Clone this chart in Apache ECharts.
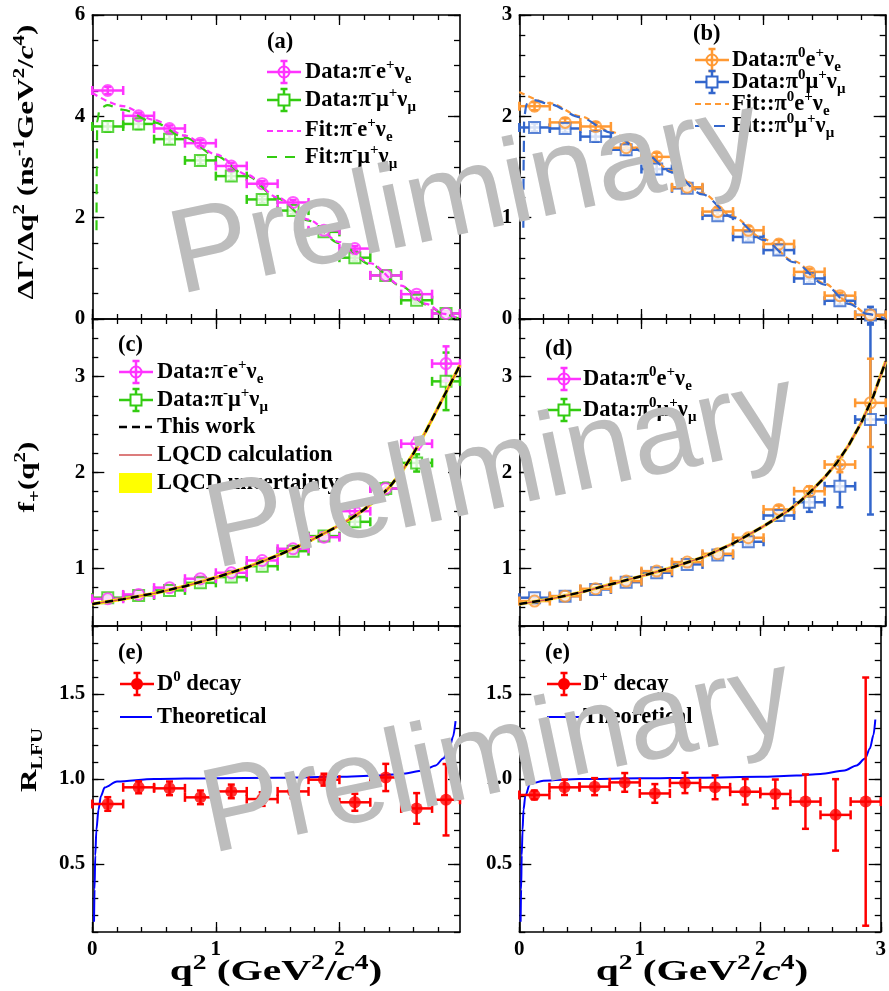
<!DOCTYPE html>
<html>
<head>
<meta charset="utf-8">
<title>D -> pi l nu</title>
<script src="https://cdn.jsdelivr.net/npm/echarts@6/dist/echarts.min.js"></script>
<style>
  html, body { margin: 0; padding: 0; background: #fff; }
  #chart { width: 889px; height: 991px; }
</style>
</head>
<body>
<div id="chart"></div>
<script>
// q^2 bin edges (GeV^2/c^4)
var binsD0 = [0, 0.25, 0.5, 0.75, 1, 1.25, 1.5, 1.75, 2, 2.25, 2.5, 2.75, 2.976];
var binsDp = [0, 0.25, 0.5, 0.75, 1, 1.25, 1.5, 1.75, 2, 2.25, 2.5, 2.75, 3.0];

// (a) D0 -> pi- l+ nu partial rates
var rateE0 = [4.51, 4.01, 3.76, 3.47, 3.02, 2.67, 2.30, 1.75, 1.39, 0.86, 0.49, 0.11];
var rateE0Err = [0.07, 0.06, 0.06, 0.06, 0.06, 0.05, 0.05, 0.05, 0.05, 0.04, 0.04, 0.03];
var rateMu0 = [3.80, 3.85, 3.55, 3.13, 2.82, 2.36, 2.14, 1.72, 1.21, 0.86, 0.37, 0.11];
var rateMu0Err = [0.10, 0.10, 0.09, 0.08, 0.08, 0.07, 0.07, 0.06, 0.06, 0.05, 0.05, 0.04];
var fitE0 = [[0, 4.46], [0.25, 4.2], [0.5, 3.93], [0.75, 3.62], [1.0, 3.25], [1.25, 2.85], [1.5, 2.4],
  [1.75, 1.96], [2.0, 1.52], [2.25, 1.1], [2.5, 0.66], [2.7, 0.3], [2.85, 0.1], [2.976, 0]];
var fitMu0 = [[0.034, 1.75], [0.036, 3.0], [0.04, 3.9], [0.06, 4.15], [0.12, 4.22], [0.25, 4.13], [0.5, 3.88],
  [0.75, 3.58], [1.0, 3.22], [1.25, 2.83], [1.5, 2.38], [1.75, 1.94], [2.0, 1.5], [2.25, 1.08],
  [2.5, 0.65], [2.7, 0.29], [2.85, 0.09], [2.976, 0]];

// (b) D+ -> pi0 l+ nu partial rates
var rateEp = [2.10, 1.94, 1.90, 1.69, 1.60, 1.30, 1.06, 0.875, 0.74, 0.465, 0.23, 0.04];
var rateEpErr = [0.04, 0.04, 0.04, 0.04, 0.04, 0.04, 0.04, 0.04, 0.04, 0.03, 0.03, 0.03];
var rateMup = [1.89, 1.88, 1.80, 1.67, 1.48, 1.29, 1.02, 0.81, 0.68, 0.40, 0.18, 0.04];
var rateMupErr = [0.04, 0.04, 0.05, 0.05, 0.05, 0.04, 0.04, 0.04, 0.04, 0.04, 0.04, 0.08];
var fitEp = [[0, 2.24], [0.25, 2.13], [0.5, 2.0], [0.75, 1.85], [1.0, 1.67], [1.25, 1.46], [1.5, 1.24],
  [1.75, 1.01], [2.0, 0.79], [2.25, 0.57], [2.5, 0.35], [2.7, 0.16], [2.85, 0.05], [3.0, 0]];
var fitMup = [[0.033, 0.9], [0.036, 1.6], [0.04, 2.0], [0.06, 2.12], [0.12, 2.16], [0.25, 2.12], [0.5, 1.99],
  [0.75, 1.84], [1.0, 1.66], [1.25, 1.45], [1.5, 1.23], [1.75, 1.0], [2.0, 0.78], [2.25, 0.56],
  [2.5, 0.34], [2.7, 0.15], [2.85, 0.05], [3.0, 0]];

// (c) f+(q^2) for D0
var ffE0 = [0.684, 0.729, 0.80, 0.893, 0.955, 1.083, 1.205, 1.326, 1.597, 1.833, 2.30, 3.135];
var ffE0Err = [0.02, 0.02, 0.02, 0.02, 0.02, 0.02, 0.025, 0.03, 0.04, 0.05, 0.06, 0.18];
var ffMu0 = [0.695, 0.719, 0.771, 0.85, 0.91, 1.024, 1.18, 1.337, 1.486, 1.833, 2.10, 2.95];
var ffMu0Err = [0.02, 0.02, 0.02, 0.03, 0.03, 0.03, 0.03, 0.04, 0.05, 0.06, 0.09, 0.30];
var ffFit0 = [[0, 0.63], [0.25, 0.68], [0.5, 0.74], [0.75, 0.815], [1.0, 0.905], [1.25, 1.01], [1.5, 1.135],
  [1.75, 1.28], [2.0, 1.45], [2.1, 1.525], [2.2, 1.615], [2.3, 1.72], [2.4, 1.84], [2.5, 2.0],
  [2.6, 2.2], [2.7, 2.43], [2.8, 2.68], [2.9, 2.93], [2.976, 3.12]];

// (d) f+(q^2) for D+
var ffEp = [0.66, 0.711, 0.788, 0.868, 0.972, 1.066, 1.153, 1.32, 1.615, 1.805, 2.083, 2.726];
var ffEpErr = [0.02, 0.02, 0.02, 0.02, 0.025, 0.025, 0.03, 0.035, 0.04, 0.05, 0.08, 0.46];
var ffMup = [0.695, 0.711, 0.781, 0.857, 0.955, 1.042, 1.139, 1.278, 1.552, 1.69, 1.857, 2.552];
var ffMupErr = [0.02, 0.02, 0.02, 0.025, 0.025, 0.03, 0.03, 0.035, 0.05, 0.10, 0.22, 0.99];
var ffFitp = [[0, 0.63], [0.25, 0.68], [0.5, 0.75], [0.75, 0.835], [1.0, 0.92], [1.25, 1.01], [1.5, 1.115],
  [1.75, 1.26], [2.0, 1.44], [2.1, 1.52], [2.2, 1.6], [2.3, 1.7], [2.4, 1.82], [2.5, 1.95],
  [2.6, 2.1], [2.7, 2.29], [2.8, 2.52], [2.9, 2.8], [3.0, 3.16]];

// (e) R_LFU
var rlfu0 = [0.853, 0.951, 0.945, 0.892, 0.927, 0.882, 0.927, 0.996, 0.863, 1.009, 0.827, 0.878];
var rlfu0Err = [0.04, 0.035, 0.04, 0.04, 0.04, 0.04, 0.04, 0.035, 0.05, 0.08, 0.09, 0.21];
var rlfup = [0.906, 0.951, 0.955, 0.980, 0.915, 0.977, 0.951, 0.925, 0.912, 0.867, 0.789, 0.867];
var rlfupErr = [0.026, 0.045, 0.05, 0.055, 0.055, 0.06, 0.07, 0.075, 0.085, 0.16, 0.21, 0.73];
var theory0 = [[0.014, 0.16], [0.018, 0.35], [0.024, 0.55], [0.033, 0.7], [0.05, 0.82], [0.07, 0.9],
  [0.1, 0.95], [0.2, 0.985], [0.5, 1.0], [1.0, 1.005], [1.5, 1.008], [2.0, 1.013], [2.3, 1.02],
  [2.5, 1.03], [2.68, 1.05], [2.78, 1.08], [2.84, 1.12], [2.89, 1.18], [2.92, 1.25], [2.94, 1.34]];
var theoryp = [[0.011, 0.16], [0.015, 0.35], [0.02, 0.55], [0.027, 0.7], [0.035, 0.82], [0.05, 0.9],
  [0.088, 0.97], [0.2, 0.99], [0.5, 1.0], [1.0, 1.004], [1.5, 1.008], [2.0, 1.013], [2.3, 1.02],
  [2.5, 1.03], [2.7, 1.05], [2.8, 1.08], [2.87, 1.12], [2.91, 1.18], [2.94, 1.26], [2.955, 1.35]];

// tick labels
var xLabD0 = [0, 1, 2];
var xLabDp = [0, 1, 2, 3];
var yLabA = [0, 2, 4, 6];
var yLabB = [0, 1, 2, 3];
var yLabF = [1, 2, 3];
var yLabR = [0.5, 1.0, 1.5];

var PINK = '#ff33ff', GREEN = '#33cc11', ORANGE = '#ff9933', BLUE = '#3366cc', RED = '#ff0000';
var SERIF = '"Liberation Serif", "Times New Roman", serif';

function ticks(a, b, step) {
  var out = [];
  for (var v = a; v <= b + 1e-6; v += step) out.push(Math.round(v * 1000) / 1000);
  return out;
}

var colL = {left: 92.3, width: 367.7}, colR = {left: 519.3, width: 366.4};
var rows = [{top: 15, height: 304}, {top: 319, height: 307}, {top: 626, height: 306}];

var panels = [
  {col: colL, row: 0, x: [0, 2.976], xMaj: [0, 1, 2], y: [0, 6], yMaj: [0, 2, 4, 6], yMin: ticks(0, 6, 0.5), yLab: yLabA},
  {col: colR, row: 0, x: [0, 3], xMaj: [0, 1, 2, 3], y: [0, 3], yMaj: [0, 1, 2, 3], yMin: ticks(0, 3, 0.2), yLab: yLabB},
  {col: colL, row: 1, x: [0, 2.976], xMaj: [0, 1, 2], y: [0.4, 3.6], yMaj: [1, 2, 3], yMin: ticks(0.4, 3.6, 0.2), yLab: yLabF},
  {col: colR, row: 1, x: [0, 3], xMaj: [0, 1, 2, 3], y: [0.4, 3.6], yMaj: [1, 2, 3], yMin: ticks(0.4, 3.6, 0.2), yLab: yLabF},
  {col: colL, row: 2, x: [0, 2.976], xMaj: [0, 1, 2], y: [0.1, 1.9], yMaj: [0.5, 1, 1.5], yMin: ticks(0.1, 1.9, 0.1), yLab: yLabR, xLab: xLabD0, fix: true},
  {col: colR, row: 2, x: [0, 3], xMaj: [0, 1, 2, 3], y: [0.1, 1.9], yMaj: [0.5, 1, 1.5], yMin: ticks(0.1, 1.9, 0.1), yLab: yLabR, xLab: xLabDp, fix: true}
];

function axis(gi, pos, ext, vals, len, frame, labels, fmt) {
  return {
    type: 'value', gridIndex: gi, position: pos, min: ext[0], max: ext[1],
    axisLine: {show: frame, onZero: false, lineStyle: {color: '#000', width: 1.6}},
    axisTick: {show: true, inside: true, length: len, customValues: vals, lineStyle: {color: '#000', width: 1.3}},
    axisLabel: labels ? {
      show: true, customValues: labels, formatter: fmt, margin: 7,
      fontFamily: SERIF, fontWeight: 'bold', fontSize: 21, color: '#000'
    } : {show: false},
    splitLine: {show: false}
  };
}

var grids = [], xAxes = [], yAxes = [];
panels.forEach(function (p, gi) {
  grids.push({left: p.col.left, width: p.col.width, top: rows[p.row].top, height: rows[p.row].height, containLabel: false});
  var xMin = ticks(0, p.x[1], 0.2);
  var fmt = p.fix ? function (v) { return v.toFixed(1); } : undefined;
  xAxes.push(axis(gi, 'bottom', p.x, p.xMaj, 10, true, p.xLab));
  xAxes.push(axis(gi, 'bottom', p.x, xMin, 5, false));
  xAxes.push(axis(gi, 'top', p.x, p.xMaj, 10, true));
  xAxes.push(axis(gi, 'top', p.x, xMin, 5, false));
  yAxes.push(axis(gi, 'left', p.y, p.yMaj, 12, true, p.yLab, fmt));
  yAxes.push(axis(gi, 'left', p.y, p.yMin, 6, false));
  yAxes.push(axis(gi, 'right', p.y, p.yMaj, 12, true));
  yAxes.push(axis(gi, 'right', p.y, p.yMin, 6, false));
});

function renderErr(params, api) {
  var y = api.value(3);
  var c = api.coord([api.value(0), y]);
  var l = api.coord([api.value(1), y]);
  var r = api.coord([api.value(2), y]);
  var b = api.coord([api.value(0), api.value(4)]);
  var t = api.coord([api.value(0), api.value(5)]);
  var st = {stroke: api.visual('color'), lineWidth: 2.5};
  var h = 4.5, w = 3.5;
  function seg(x1, y1, x2, y2) { return {type: 'line', shape: {x1: x1, y1: y1, x2: x2, y2: y2}, style: st}; }
  return {type: 'group', children: [
    seg(l[0], c[1], r[0], c[1]),
    seg(l[0], c[1] - h, l[0], c[1] + h),
    seg(r[0], c[1] - h, r[0], c[1] + h),
    seg(c[0], t[1], c[0], b[1]),
    seg(c[0] - w, t[1], c[0] + w, t[1]),
    seg(c[0] - w, b[1], c[0] + w, b[1])
  ]};
}

function errBars(gi, bins, vals, errs, color) {
  var data = vals.map(function (v, k) {
    return [(bins[k] + bins[k + 1]) / 2, bins[k], bins[k + 1], v, v - errs[k], v + errs[k]];
  });
  return {type: 'custom', xAxisIndex: 4 * gi, yAxisIndex: 4 * gi, data: data, renderItem: renderErr,
    encode: {x: [0, 1, 2], y: [3, 4, 5]}, itemStyle: {color: color}, z: 3, silent: true};
}

function markers(gi, bins, vals, color, kind) {
  var data = vals.map(function (v, k) { return [(bins[k] + bins[k + 1]) / 2, v]; });
  var style;
  if (kind === 'dot') style = {color: color};
  else style = {color: kind === 'square' ? '#fff' : 'rgba(255,255,255,0)', borderColor: color, borderWidth: 2};
  return {type: 'scatter', xAxisIndex: 4 * gi, yAxisIndex: 4 * gi, data: data,
    symbol: kind === 'square' ? 'rect' : 'circle', symbolSize: kind === 'dot' ? 12 : 11,
    itemStyle: style, z: 4, silent: true};
}

function curve(gi, pts, color, width, dash, z, smooth) {
  return {type: 'line', xAxisIndex: 4 * gi, yAxisIndex: 4 * gi, data: pts, showSymbol: false,
    smooth: smooth === undefined ? 0.3 : smooth, smoothMonotone: 'x',
    lineStyle: {color: color, width: width, type: dash || 'solid'}, z: z || 5, silent: true};
}

var series = [
  // (a)
  errBars(0, binsD0, rateMu0, rateMu0Err, GREEN), markers(0, binsD0, rateMu0, GREEN, 'square'),
  errBars(0, binsD0, rateE0, rateE0Err, PINK), markers(0, binsD0, rateE0, PINK, 'circle'),
  curve(0, fitMu0, GREEN, 2.2, [10, 8]), curve(0, fitE0, PINK, 2.2, [6, 4]),
  // (b)
  errBars(1, binsDp, rateMup, rateMupErr, BLUE), markers(1, binsDp, rateMup, BLUE, 'square'),
  errBars(1, binsDp, rateEp, rateEpErr, ORANGE), markers(1, binsDp, rateEp, ORANGE, 'circle'),
  curve(1, fitEp, ORANGE, 2.2, [6, 4]), curve(1, fitMup, BLUE, 2.2, [11, 8]),
  // (c)
  errBars(2, binsD0, ffMu0, ffMu0Err, GREEN), markers(2, binsD0, ffMu0, GREEN, 'square'),
  errBars(2, binsD0, ffE0, ffE0Err, PINK), markers(2, binsD0, ffE0, PINK, 'circle'),
  curve(2, ffFit0, '#ffee00', 3.5, null, 5, false), curve(2, ffFit0, '#d05050', 1.5, null, 6, false),
  curve(2, ffFit0, '#000', 2.5, [8, 5], 7, false),
  // (d)
  errBars(3, binsDp, ffMup, ffMupErr, BLUE), markers(3, binsDp, ffMup, BLUE, 'square'),
  errBars(3, binsDp, ffEp, ffEpErr, ORANGE), markers(3, binsDp, ffEp, ORANGE, 'circle'),
  curve(3, ffFitp, '#ffdd33', 3.5, null, 5, false), curve(3, ffFitp, '#d05050', 1.5, null, 6, false),
  curve(3, ffFitp, '#000', 2.5, [8, 5], 7, false),
  // (e)
  curve(4, theory0, '#0000ff', 2, null, 2),
  errBars(4, binsD0, rlfu0, rlfu0Err, RED), markers(4, binsD0, rlfu0, RED, 'dot'),
  curve(5, theoryp, '#0000ff', 2, null, 2),
  errBars(5, binsDp, rlfup, rlfupErr, RED), markers(5, binsDp, rlfup, RED, 'dot')
];

// ---- legends, titles, watermark ----
function richSet(size) {
  var s = Math.round(size * 0.66);
  return {
    n: {fontFamily: SERIF, fontWeight: 'bold', fontSize: size, lineHeight: size + 7, fill: '#000'},
    it: {fontFamily: SERIF, fontWeight: 'bold', fontStyle: 'italic', fontSize: size, lineHeight: size + 7, fill: '#000'},
    sup: {fontFamily: SERIF, fontWeight: 'bold', fontSize: s, lineHeight: s - 2, verticalAlign: 'top', fill: '#000'},
    sub: {fontFamily: SERIF, fontWeight: 'bold', fontSize: s, lineHeight: s - 2, verticalAlign: 'bottom', fill: '#000'}
  };
}
var RICH_LEG = richSet(22.5), RICH_TITLE = richSet(24);

function gLine(x1, y1, x2, y2, color, w, dash) {
  return {type: 'line', z: 10, shape: {x1: x1, y1: y1, x2: x2, y2: y2}, style: {stroke: color, lineWidth: w, lineDash: dash || null}};
}
function legData(x, y, color, kind) {
  var cx = x + 17;
  var els = [
    gLine(x, y, x + 34, y, color, 2.5),
    gLine(cx, y - 11, cx, y + 11, color, 2.5),
    gLine(cx - 3.5, y - 11, cx + 3.5, y - 11, color, 2.5),
    gLine(cx - 3.5, y + 11, cx + 3.5, y + 11, color, 2.5)
  ];
  if (kind === 'square') els.push({type: 'rect', z: 11, shape: {x: cx - 5.5, y: y - 5.5, width: 11, height: 11}, style: {fill: '#fff', stroke: color, lineWidth: 2}});
  else if (kind === 'dot') els.push({type: 'circle', z: 11, shape: {cx: cx, cy: y, r: 6}, style: {fill: color}});
  else els.push({type: 'circle', z: 11, shape: {cx: cx, cy: y, r: 5.5}, style: {fill: 'none', stroke: color, lineWidth: 2}});
  return els;
}
function txt(x, y, text, opts) {
  opts = opts || {};
  return {type: 'text', x: x, y: y, z: 12, rotation: opts.rot || 0, scaleX: opts.sx || 1,
    style: {text: text, rich: opts.rich || RICH_LEG, align: opts.align || 'left', verticalAlign: 'middle',
      fontFamily: SERIF, fontWeight: 'bold', fontSize: 21, fill: '#000'}};
}

var eNu = '{n|e}{sup|+}{n|ν}{sub|e}', muNu = '{n|μ}{sup|+}{n|ν}{sub|μ}';
var g = [];
// (a)
g.push(txt(267, 42, '{n|(a)}'));
g = g.concat(legData(267, 72, PINK, 'circle'), legData(267, 100, GREEN, 'square'));
g.push(gLine(267, 131, 301, 131, PINK, 2.2, [6, 4]), gLine(267, 157, 301, 157, GREEN, 2.2, [10, 8]));
g.push(txt(305, 72, '{n|Data:π}{sup|-}' + eNu), txt(305, 100, '{n|Data:π}{sup|-}' + muNu),
  txt(305, 130, '{n|Fit:π}{sup|-}' + eNu), txt(305, 157, '{n|Fit:π}{sup|-}' + muNu));
// (b)
g.push(txt(693, 34, '{n|(b)}'));
g = g.concat(legData(695, 60, ORANGE, 'circle'), legData(695, 82, BLUE, 'square'));
g.push(gLine(695, 104, 729, 104, ORANGE, 2.2, [6, 4]), gLine(695, 126, 729, 126, BLUE, 2.2, [11, 8]));
g.push(txt(732, 60, '{n|Data:π}{sup|0}' + eNu), txt(732, 82, '{n|Data:π}{sup|0}' + muNu),
  txt(732, 104, '{n|Fit::π}{sup|0}' + eNu), txt(732, 126, '{n|Fit::π}{sup|0}' + muNu));
// (c)
g.push(txt(118, 345, '{n|(c)}'));
g = g.concat(legData(119, 372, PINK, 'circle'), legData(119, 400, GREEN, 'square'));
g.push(gLine(119, 427, 152, 427, '#000', 2.5, [8, 5]), gLine(119, 455, 152, 455, '#d05050', 1.5));
g.push({type: 'rect', z: 10, shape: {x: 119, y: 473, width: 33, height: 20}, style: {fill: '#ffff00'}});
g.push(txt(157, 372, '{n|Data:π}{sup|-}' + eNu), txt(157, 400, '{n|Data:π}{sup|-}' + muNu),
  txt(157, 427, '{n|This work}'), txt(157, 455, '{n|LQCD calculation}'), txt(157, 483, '{n|LQCD uncertainty}'));
// (d)
g.push(txt(545, 349, '{n|(d)}'));
g = g.concat(legData(547, 379, PINK, 'circle'), legData(547, 410, GREEN, 'square'));
g.push(txt(583, 379, '{n|Data:π}{sup|0}' + eNu), txt(583, 410, '{n|Data:π}{sup|0}' + muNu));
// (e) left / right
g.push(txt(118, 653, '{n|(e)}'));
g = g.concat(legData(120, 684, RED, 'dot'));
g.push(gLine(120, 717, 152, 717, '#0000ff', 2));
g.push(txt(157, 684, '{n|D}{sup|0}{n| decay}'), txt(157, 717, '{n|Theoretical}'));
g.push(txt(545, 653, '{n|(e)}'));
g = g.concat(legData(547, 684, RED, 'dot'));
g.push(gLine(547, 717, 579, 717, '#0000ff', 2));
g.push(txt(583, 684, '{n|D}{sup|+}{n| decay}'), txt(583, 717, '{n|Theoretical}'));

// axis titles
var yT = {rot: Math.PI / 2, align: 'center', rich: RICH_TITLE, sx: 1.3};
g.push(txt(27, 162, '{n|ΔΓ/Δq}{sup|2}{n| (ns}{sup|-1}{n|GeV}{sup|2}{n|/}{it|c}{sup|4}{n|)}', yT));
g.push(txt(28, 477, '{n|f}{sub|+}{n|(q}{sup|2}{n|)}', yT));
g.push(txt(30, 760, '{n|R}{sub|LFU}', yT));
var xT = {align: 'center', rich: richSet(30), sx: 1.38};
g.push(txt(276, 972, '{n|q}{sup|2}{n| (GeV}{sup|2}{n|/}{it|c}{sup|4}{n|)}', xT));
g.push(txt(702, 972, '{n|q}{sup|2}{n| (GeV}{sup|2}{n|/}{it|c}{sup|4}{n|)}', xT));

// watermark
[[181, 303], [217, 577], [213, 862]].forEach(function (p) {
  g.push({type: 'text', x: p[0], y: p[1], rotation: 0.21, z: 100,
    style: {text: 'Preliminary', x: 0, y: -42, align: 'left', verticalAlign: 'middle',
      fontFamily: '"Liberation Sans", Arial, sans-serif', fontSize: 120, fill: '#bdbdbd'}});
});

var chart = echarts.init(document.getElementById('chart'));
chart.setOption({
  animation: false,
  backgroundColor: '#fff',
  grid: grids,
  xAxis: xAxes,
  yAxis: yAxes,
  series: series,
  graphic: {elements: g}
});
</script>
</body>
</html>
